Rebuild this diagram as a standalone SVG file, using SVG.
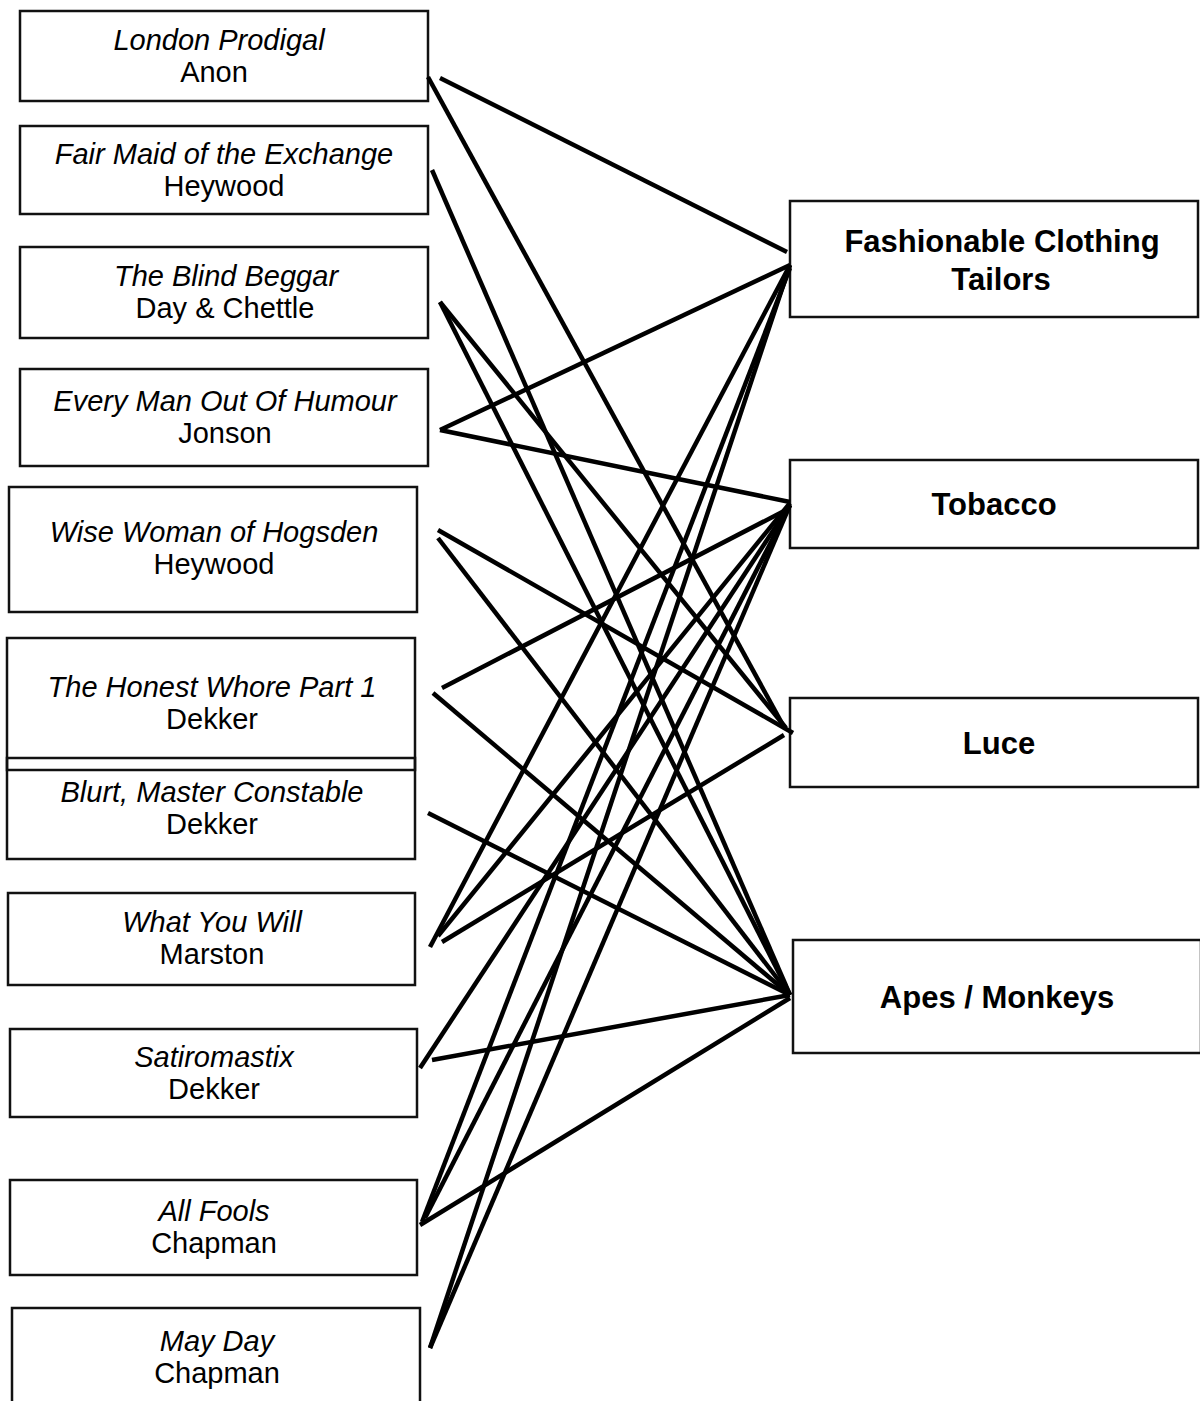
<svg xmlns="http://www.w3.org/2000/svg" width="1200" height="1401" viewBox="0 0 1200 1401">
<style>
.box{fill:none;stroke:#111;stroke-width:2.5}
.t{font-family:"Liberation Sans",Arial,sans-serif;font-size:29px;text-anchor:middle;fill:#000}
.i{font-style:italic}
.b{font-family:"Liberation Sans",Arial,sans-serif;font-size:31px;font-weight:bold;text-anchor:middle;fill:#000}
.c line{stroke:#000;stroke-width:4.5}
</style>
<rect width="1200" height="1401" fill="#fff"/>
<g id="london-prodigal"><rect class="box" x="20" y="11" width="408" height="90"/><text class="t i" x="219" y="50">London Prodigal</text><text class="t" x="214" y="82">Anon</text></g>
<g id="fair-maid"><rect class="box" x="20" y="126" width="408" height="88"/><text class="t i" x="224" y="164">Fair Maid of the Exchange</text><text class="t" x="224" y="196">Heywood</text></g>
<g id="blind-beggar"><rect class="box" x="20" y="247" width="408" height="91"/><text class="t i" x="226" y="286">The Blind Beggar</text><text class="t" x="225" y="318">Day &amp; Chettle</text></g>
<g id="every-man"><rect class="box" x="20" y="369" width="408" height="97"/><text class="t i" x="225" y="411">Every Man Out Of Humour</text><text class="t" x="225" y="443">Jonson</text></g>
<g id="wise-woman"><rect class="box" x="9" y="487" width="408" height="125"/><text class="t i" x="214" y="542">Wise Woman of Hogsden</text><text class="t" x="214" y="574">Heywood</text></g>
<g id="honest-whore"><rect class="box" x="7" y="638" width="408" height="132"/><text class="t i" x="212" y="697">The Honest Whore Part 1</text><text class="t" x="212" y="729">Dekker</text></g>
<g id="blurt"><rect class="box" x="7" y="758" width="408" height="101"/><text class="t i" x="212" y="802">Blurt, Master Constable</text><text class="t" x="212" y="834">Dekker</text></g>
<g id="what-you-will"><rect class="box" x="8" y="893" width="407" height="92"/><text class="t i" x="212" y="932">What You Will</text><text class="t" x="212" y="964">Marston</text></g>
<g id="satiromastix"><rect class="box" x="10" y="1029" width="407" height="88"/><text class="t i" x="214" y="1067">Satiromastix</text><text class="t" x="214" y="1099">Dekker</text></g>
<g id="all-fools"><rect class="box" x="10" y="1180" width="407" height="95"/><text class="t i" x="214" y="1221">All Fools</text><text class="t" x="214" y="1253">Chapman</text></g>
<g id="may-day"><rect class="box" x="12" y="1308" width="408" height="110"/><text class="t i" x="217" y="1351">May Day</text><text class="t" x="217" y="1383">Chapman</text></g>
<g id="fashionable-clothing"><rect class="box" x="790" y="201" width="408" height="116"/><text class="b" x="1002" y="252">Fashionable Clothing</text><text class="b" x="1001" y="290">Tailors</text></g>
<g id="tobacco"><rect class="box" x="790" y="460" width="408" height="88"/><text class="b" x="994" y="515">Tobacco</text></g>
<g id="luce"><rect class="box" x="790" y="698" width="408" height="89"/><text class="b" x="999" y="754">Luce</text></g>
<g id="apes-monkeys"><rect class="box" x="793" y="940" width="408" height="113"/><text class="b" x="997" y="1008">Apes / Monkeys</text></g>
<g id="connectors" class="c">
<line x1="440" y1="78" x2="787" y2="252"/>
<line x1="428" y1="77" x2="784" y2="727"/>
<line x1="432" y1="170" x2="790" y2="995"/>
<line x1="440" y1="302" x2="786" y2="728"/>
<line x1="440" y1="302" x2="790" y2="995"/>
<line x1="440" y1="430" x2="790" y2="265"/>
<line x1="440" y1="430" x2="790" y2="502"/>
<line x1="438" y1="530" x2="793" y2="733"/>
<line x1="438" y1="538" x2="790" y2="995"/>
<line x1="442" y1="688" x2="786" y2="510"/>
<line x1="433" y1="693" x2="790" y2="995"/>
<line x1="428" y1="813" x2="790" y2="995"/>
<line x1="430" y1="947" x2="790" y2="265"/>
<line x1="438" y1="936" x2="790" y2="503"/>
<line x1="442" y1="942" x2="784" y2="735"/>
<line x1="420" y1="1068" x2="790" y2="505"/>
<line x1="432" y1="1060" x2="790" y2="995"/>
<line x1="422" y1="1222" x2="790" y2="268"/>
<line x1="425" y1="1218" x2="790" y2="505"/>
<line x1="420" y1="1225" x2="790" y2="998"/>
<line x1="430" y1="1348" x2="790" y2="265"/>
<line x1="430" y1="1348" x2="790" y2="505"/>
</g>
</svg>
